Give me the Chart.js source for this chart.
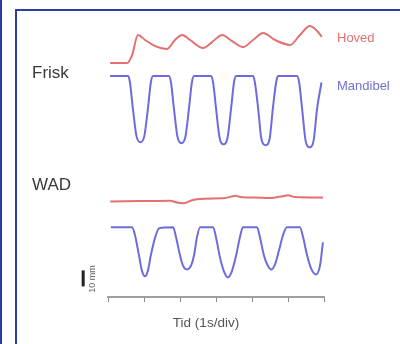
<!DOCTYPE html>
<html>
<head>
<meta charset="utf-8">
<script src="https://cdn.jsdelivr.net/npm/chart.js@4.4.0/dist/chart.umd.min.js"></script>
<style>
  html, body { margin: 0; padding: 0; background: #fff; }
  body { width: 400px; height: 344px; position: relative; overflow: hidden; }
  .edge { position: absolute; left: 0; top: 0; width: 2px; height: 344px; background: #2b3d9f; }
  .panel { position: absolute; left: 15px; top: 9px; right: 0; bottom: 0; border-left: 2px solid #2b3d9f; border-top: 2px solid #2b3d9f; }
  canvas { position: absolute; left: 0; top: 0; }
</style>
</head>
<body>
<div class="edge"></div>
<div class="panel"></div>
<canvas id="chart" width="400" height="344"></canvas>
<script>
// time in s, displacement in mm (relative to each trace's rest level)
const friskHovedT = [0.06, 0.53, 0.67, 0.83, 1.03, 1.31, 1.64, 1.86, 2.06, 2.28, 2.64, 2.89, 3.17, 3.44, 3.75, 4.03, 4.31, 4.64, 5.06, 5.33, 5.61, 5.81, 5.94];
const friskHovedY = [0, 0, 5, 17.5, 14.4, 10.6, 8.8, 14.4, 17.5, 14.4, 9.4, 13.1, 17.5, 13.8, 10, 14.4, 18.8, 14.4, 11.3, 17.5, 23.1, 20, 16.3];

const friskMandibelT = [0.06,
  0.56, 0.61, 0.69, 0.79, 0.90, 1.01, 1.11, 1.19, 1.25,
  1.69, 1.75, 1.83, 1.93, 2.04, 2.15, 2.25, 2.33, 2.39,
  2.86, 2.92, 3.00, 3.10, 3.21, 3.32, 3.42, 3.50, 3.56,
  4.03, 4.08, 4.17, 4.26, 4.38, 4.49, 4.58, 4.67, 4.72,
  5.25, 5.31, 5.39, 5.49, 5.60, 5.71, 5.81, 5.93];
const friskMandibelY = [0,
  0, -4, -20, -37.3, -41.3, -37.3, -20, -4, 0,
  0, -4, -20, -37.9, -41.9, -37.9, -20, -4, 0,
  0, -4, -20, -38.5, -42.5, -38.5, -20, -4, 0,
  0, -4, -20, -39.1, -43.1, -39.1, -20, -4, 0,
  0, -4, -20, -40.4, -44.4, -40.4, -20, -4];

const wadHovedT = [0.06, 0.89, 1.72, 1.94, 2.11, 2.33, 2.69, 3.25, 3.56, 3.67, 4.08, 4.50, 4.86, 5.00, 5.19, 5.97];
const wadHovedY = [-0.9, -0.6, -0.3, -1.6, -1.9, 0, 0.9, 1.3, 2.8, 1.9, 1.6, 1.3, 2.5, 3.1, 1.9, 1.6];

const wadMandibelT = [0.08,
  0.67, 0.75, 0.86, 0.94, 1.03, 1.11, 1.19, 1.31, 1.42,
  1.81, 1.89, 2.00, 2.08, 2.19, 2.31, 2.39, 2.47, 2.56,
  2.92, 3.00, 3.11, 3.22, 3.33, 3.44, 3.56, 3.67, 3.75,
  4.14, 4.22, 4.33, 4.42, 4.53, 4.64, 4.75, 4.86, 4.97,
  5.33, 5.42, 5.53, 5.64, 5.78, 5.89, 5.97];
const wadMandibelY = [0,
  0, -5, -17.5, -26.9, -30.6, -26.9, -17.5, -6.3, -0.6,
  0, -6.3, -17.5, -23.8, -26.3, -23.8, -17.5, -6.3, 0,
  0, -6.3, -18.8, -27.5, -31.3, -27.5, -17.5, -5.6, 0,
  0, -6.3, -17.5, -23.1, -26.3, -23.1, -14.4, -5, 0,
  0, -6.3, -17.5, -25.6, -29.4, -23.8, -9.4];

const timeTicks = [0, 1, 2, 3, 4, 5, 6];
const rowNames = ['Frisk', 'WAD'];
const traceNames = ['Hoved', 'Mandibel'];
const timeTitle = 'Tid (1s/div)';
const scaleBarMm = 10;
const scaleBarText = '10 mm';

// vertical placement of each trace (mm above the time axis)
const baseFriskHoved = 145.9;
const baseFriskMandibel = 137.8;
const baseWadHoved = 60.4;
const baseWadMandibel = 43.5;
const scaleBarT = -0.69;
const scaleBarBase = 6.6;

const red = 'rgb(228, 112, 112)';
const blue = 'rgb(108, 108, 222)';

function toPoints(ts, ys, base) {
  return ts.map((t, i) => ({ x: t, y: base + ys[i] }));
}

function trace(label, ts, ys, base, color) {
  return {
    label: label,
    data: toPoints(ts, ys, base),
    borderColor: color,
    backgroundColor: color,
    borderWidth: 2,
    pointRadius: 0,
    fill: false,
    cubicInterpolationMode: 'monotone'
  };
}

const textPlugin = {
  id: 'textPlugin',
  afterDraw(chart) {
    const ctx = chart.ctx;
    const xs = chart.scales.x;
    const ys = chart.scales.y;
    ctx.save();

    // scale bar
    const bx = xs.getPixelForValue(scaleBarT);
    ctx.strokeStyle = '#222';
    ctx.lineWidth = 3;
    ctx.beginPath();
    ctx.moveTo(bx, ys.getPixelForValue(scaleBarBase));
    ctx.lineTo(bx, ys.getPixelForValue(scaleBarBase + scaleBarMm));
    ctx.stroke();

    ctx.textBaseline = 'middle';
    ctx.textAlign = 'left';
    ctx.fillStyle = '#3a3a3a';
    ctx.font = '17px "Liberation Sans", Arial, sans-serif';
    ctx.fillText(rowNames[0], 32, 73);
    ctx.fillText(rowNames[1], 32, 185);

    ctx.font = '13px "Liberation Sans", Arial, sans-serif';
    ctx.fillStyle = red;
    ctx.fillText(traceNames[0], 337, 38);
    ctx.fillStyle = 'rgb(112, 112, 205)';
    ctx.fillText(traceNames[1], 337, 86);

    ctx.fillStyle = '#555';
    ctx.textAlign = 'center';
    ctx.font = '13.5px "Liberation Sans", Arial, sans-serif';
    ctx.fillText(timeTitle, 206, 323);

    ctx.translate(93, 279);
    ctx.rotate(-Math.PI / 2);
    ctx.font = '9px "Liberation Sans", Arial, sans-serif';
    ctx.fillStyle = '#666';
    ctx.fillText(scaleBarText, 0, 0);
    ctx.restore();
  }
};

new Chart(document.getElementById('chart'), {
  type: 'line',
  data: {
    datasets: [
      trace('Frisk Hoved', friskHovedT, friskHovedY, baseFriskHoved, red),
      trace('Frisk Mandibel', friskMandibelT, friskMandibelY, baseFriskMandibel, blue),
      trace('WAD Hoved', wadHovedT, wadHovedY, baseWadHoved, red),
      trace('WAD Mandibel', wadMandibelT, wadMandibelY, baseWadMandibel, blue)
    ]
  },
  options: {
    responsive: false,
    animation: false,
    layout: { padding: { left: 108, right: 76, top: 10, bottom: 0 } },
    plugins: { legend: { display: false }, tooltip: { enabled: false } },
    scales: {
      x: {
        type: 'linear',
        min: timeTicks[0],
        max: timeTicks[timeTicks.length - 1],
        afterBuildTicks: s => { s.ticks = timeTicks.map(v => ({ value: v })); },
        afterFit: s => { s.height = 47; },
        ticks: { display: false },
        grid: { drawOnChartArea: false, drawTicks: true, tickLength: 5, color: '#8a8a8a', lineWidth: 1 },
        border: { display: true, color: '#a0a0a0', width: 2 }
      },
      y: {
        display: false,
        min: 0,
        max: 179
      }
    }
  },
  plugins: [textPlugin]
});
</script>
</body>
</html>
